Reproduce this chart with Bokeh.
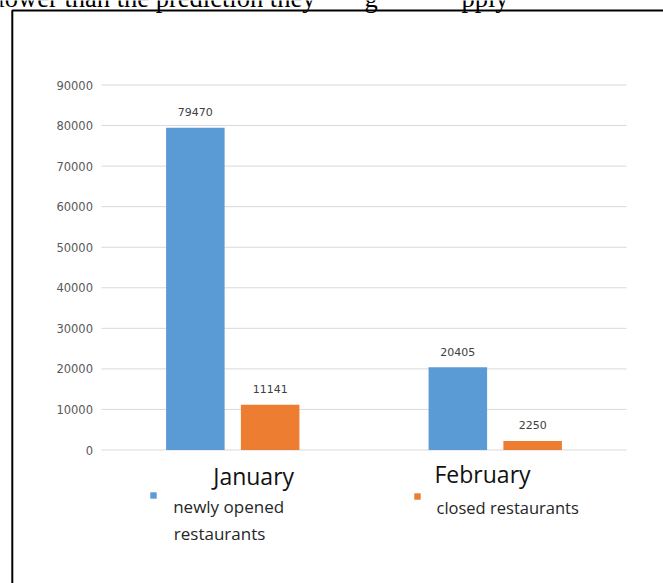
from bokeh.plotting import figure
from bokeh.models import (ColumnDataSource, Range1d, Label, Legend, LegendItem, BoxAnnotation)
from bokeh.core.properties import value
from bokeh.embed import file_html
from bokeh.resources import INLINE

# ---- data ----
months = ["January", "February"]
newly_opened = [79470, 20405]
closed = [11141, 2250]
y_ticks = [0, 10000, 20000, 30000, 40000, 50000, 60000, 70000, 80000, 90000]
y_tick_labels = [str(t) for t in y_ticks]
series_names = ["newly opened", "closed restaurants"]
series_name_cont = "restaurants"
page_text = ["lower than the prediction they", "g", "pply"]

BLUE = "#5B9BD5"
ORANGE = "#ED7D31"

W, H = 663, 583
# layout: pixels per unit of the category axis / of the value axis
XPX = 262.5
YPX = 365.0 / 90000
X0PX, Y0PX = 101.0, 449.5      # where category 0 starts / where value 0 lies

def dx(px):
    return (px - X0PX) / XPX

def dy(py):
    return (Y0PX - py) / YPX

centers = [i + 0.5 for i in range(len(months))]
off = 0.1425
bw = 0.223

src = ColumnDataSource(dict(
    x_new=[c - off for c in centers],
    x_closed=[c + off for c in centers],
    new=newly_opened,
    closed=closed,
    new_lbl=[str(v) for v in newly_opened],
    closed_lbl=[str(v) for v in closed],
))

p = figure(x_range=Range1d(dx(0), dx(W)), y_range=Range1d(dy(H), dy(0)),
           width=W, height=H, output_backend="svg", toolbar_location=None,
           min_border=0)
p.xaxis.visible = False
p.yaxis.visible = False
p.grid.visible = False
p.outline_line_color = None
p.background_fill_color = "white"
p.border_fill_color = "white"

# horizontal gridlines spanning the category area
p.segment(x0=0, x1=len(months), y0=y_ticks, y1=y_ticks, line_color="#d9d9d9", line_width=1)

# value-axis tick labels
p.text(x=dx(92.5), y=y_ticks, text=y_tick_labels, text_font=value("DejaVu Sans"),
       text_font_size="11.5px", text_color="#595959", text_align="right",
       text_baseline="middle")

r_new = p.vbar(x="x_new", top="new", width=bw, source=src, fill_color=BLUE, line_color=None)
r_closed = p.vbar(x="x_closed", top="closed", width=bw, source=src, fill_color=ORANGE,
                  line_color=None)

txt_kw = dict(text_font=value("DejaVu Sans"), text_font_size="11px", text_color="#404040",
              text_align="center", text_baseline="middle", y_offset=-15.5)
p.text(x="x_new", y="new", text="new_lbl", source=src, **txt_kw)
p.text(x="x_closed", y="closed", text="closed_lbl", source=src, **txt_kw)

# category labels (Label 'alphabetic' renders ~0.335em low with Open Sans -> compensate)
cat_kw = dict(text_font="Open Sans", text_font_size="23px", text_color="#111111",
              text_align="left", text_baseline="alphabetic")
p.add_layout(Label(x=dx(212.7), y=dy(483.3 - 7.7), text=months[0], **cat_kw))
p.add_layout(Label(x=dx(434.0), y=dy(480.7 - 7.7), text=months[1], **cat_kw))

# legends: a blank first line lifts the legend square above the label text
leg_kw = dict(background_fill_alpha=0, border_line_color=None, padding=0, margin=0,
              spacing=0, glyph_width=8, glyph_height=8, label_standoff=16,
              label_text_font="Open Sans", label_text_color="#262626")
leg1 = Legend(items=[LegendItem(label="\u00a0\n" + series_names[0], renderers=[r_new])],
              location=(149.2, 64.8), label_text_font_size="17px", **leg_kw)
leg2 = Legend(items=[LegendItem(label="\u00a0\n" + series_names[1], renderers=[r_closed])],
              location=(412.5, 64.5), label_text_font_size="16.5px", **leg_kw)
p.add_layout(leg1)
p.add_layout(leg2)
p.add_layout(Label(x=dx(173.3), y=dy(539 - 5.7), text=series_name_cont,
                   text_font="Open Sans", text_font_size="17px", text_color="#262626",
                   text_align="left", text_baseline="alphabetic"))

# scanned page: frame and cut-off line of text above it
p.add_layout(BoxAnnotation(left=dx(11.8), right=dx(2000), top=dy(10), bottom=dy(2000),
                           fill_alpha=0, line_color="black", line_alpha=1.0, line_width=2))
top_kw = dict(text_font="Liberation Serif", text_font_size="26.5px", text_color="#000000",
              text_align="left", text_baseline="alphabetic")
for t, px in zip(page_text, [-3, 364, 461]):
    p.add_layout(Label(x=dx(px), y=dy(8.5 - 11), text=t, **top_kw))

open("out.html", "w").write(file_html(p, INLINE))
